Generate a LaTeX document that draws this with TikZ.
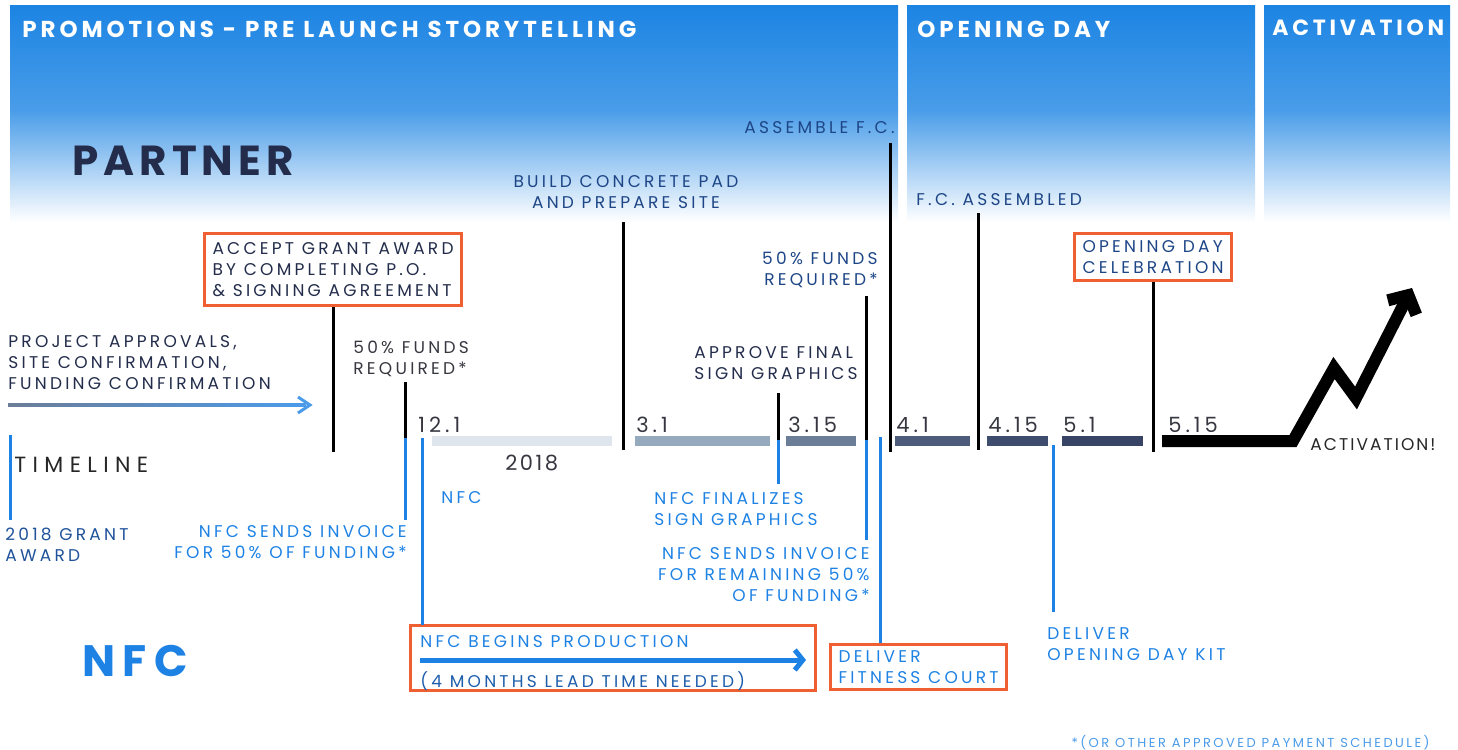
\documentclass[tikz,border=0pt]{standalone}
\usepackage{fontspec}
\setmainfont{Poppins}[LetterSpace=19]
\newfontfamily\titlefam{Poppins}[LetterSpace=17]
\newfontfamily\widefam{Poppins}[LetterSpace=29]
\newfontfamily\tightfam{Poppins}[LetterSpace=12]
\usetikzlibrary{arrows.meta, positioning}

\definecolor{skyblue}{RGB}{28,132,227}
\definecolor{navy}{RGB}{35,45,75}
\definecolor{deepblue}{RGB}{30,70,135}
\definecolor{nfcblue}{RGB}{30,130,228}
\definecolor{boxorange}{RGB}{240,95,50}
\definecolor{inkgray}{RGB}{55,55,65}
\definecolor{segA}{RGB}{222,229,236}
\definecolor{segB}{RGB}{150,170,190}
\definecolor{segC}{RGB}{108,125,152}
\definecolor{segD}{RGB}{78,92,124}
\definecolor{segE}{RGB}{62,76,110}
\definecolor{segF}{RGB}{55,68,102}

\begin{document}
\begin{tikzpicture}[
    x=0.5pt, y=-0.5pt,
    lbl/.style={inner sep=0pt, align=left, text=navy,
        font=\fontsize{8.5}{10.5}\selectfont},
    nfclbl/.style={lbl, text=nfcblue},
    datelbl/.style={inner sep=0pt, text=inkgray,
        font=\fontsize{10.5}{12}\selectfont},
    title/.style={inner sep=0pt, text=white,
        font=\titlefam\fontsize{11.5}{13}\selectfont\bfseries},
    heading/.style={inner sep=0pt, text=navy,
        font=\tightfam\fontsize{21}{23}\selectfont\bfseries},
    orangebox/.style={draw=boxorange, line width=1.5pt, inner xsep=4pt, inner ysep=3.5pt},
    tickline/.style={black, line width=1.5pt},
    nfcline/.style={nfcblue, line width=1.5pt},
    skyfade/.style={top color=skyblue!80!white, bottom color=white},
    skytop/.style={top color=skyblue, bottom color=skyblue!80!white},
]

    % sky panels
    \shade[skytop]  (10,5)    rectangle (898,110);
    \shade[skyfade] (10,110)  rectangle (898,222);
    \shade[skytop]  (907,5)   rectangle (1255,110);
    \shade[skyfade] (907,110) rectangle (1255,222);
    \shade[skytop]  (1264,5)  rectangle (1450,110);
    \shade[skyfade] (1264,110) rectangle (1450,222);

    \node[title, anchor=north west] (promo)   at (22,21)   {PROMOTIONS - PRE LAUNCH STORYTELLING};
    \node[title, anchor=north west] (openday) at (917,21)  {OPENING DAY};
    \node[title, anchor=north west, font=\titlefam\fontsize{11}{13}\selectfont\bfseries]
                                    (activ)   at (1272,19) {ACTIVATION};

    \node[heading, anchor=north west] (partner) at (72,146) {PARTNER};
    \node[heading, text=nfcblue, anchor=north west, font=\titlefam\fontsize{22}{24}\selectfont\bfseries]
                                      (nfcbig)  at (82,645) {NFC};

    % timeline bar
    \fill[segA] (432,436) rectangle (612,446);
    \fill[segB] (635,436) rectangle (770,446);
    \fill[segC] (786,436) rectangle (856,446);
    \fill[segD] (895,436) rectangle (970,446);
    \fill[segE] (987,436) rectangle (1048,446);
    \fill[segF] (1062,436) rectangle (1143,446);

    \coordinate (z0) at (1162,441);
    \coordinate (z1) at (1293,441);
    \coordinate (z2) at (1334,368);
    \coordinate (z3) at (1356,398);
    \coordinate (z4) at (1412,288);
    \draw[black, line width=6pt, miter limit=4,
        -{Straight Barb[length=7pt, width=16pt]}] (z0) -- (z1) -- (z2) -- (z3) -- (z4);

    % dates
    \node[datelbl, anchor=north west] (d121)  at (418,417) {12.1};
    \node[datelbl, anchor=north west] (d31)   at (636,417) {3.1};
    \node[datelbl, anchor=north west] (d315)  at (788,417) {3.15};
    \node[datelbl, anchor=north west] (d41)   at (896,417) {4.1};
    \node[datelbl, anchor=north west] (d415)  at (988,417) {4.15};
    \node[datelbl, anchor=north west] (d51)   at (1063,417) {5.1};
    \node[datelbl, anchor=north west] (d515)  at (1168,417) {5.15};
    \node[datelbl, anchor=north west, font=\tightfam\fontsize{10.5}{12}\selectfont]
                                      (d2018) at (505,455) {2018};
    \node[datelbl, anchor=north west, font=\widefam\fontsize{11}{12}\selectfont, text=black!85]
                                      (timeline) at (14,457) {TIMELINE};
    \node[lbl, anchor=north west, text=black!85, font=\tightfam\fontsize{8.5}{10}\selectfont]
                                      (activated) at (1310,438) {ACTIVATION!};

    % partner side
    \node[lbl, anchor=north, align=center, text=deepblue] (build) at (626,175)
        {BUILD CONCRETE PAD\\AND PREPARE SITE};
    \node[lbl, anchor=north east, text=deepblue] (assemble) at (895,121) {ASSEMBLE F.C.};
    \node[lbl, anchor=north west, text=deepblue] (fcdone)   at (916,193) {F.C. ASSEMBLED};
    \node[lbl, anchor=north east, align=right, text=deepblue] (funds2) at (878,252)
        {50\% FUNDS\\REQUIRED*};
    \node[lbl, orangebox, inner ysep=4.5pt, anchor=north west] (accept) at (203,232)
        {ACCEPT GRANT AWARD\\BY COMPLETING P.O.\\\& SIGNING AGREEMENT};
    \node[lbl, orangebox, anchor=north west, text=deepblue] (celebrate) at (1073,232)
        {OPENING DAY\\CELEBRATION};
    \node[lbl, anchor=north west] (approvals) at (8,335)
        {PROJECT APPROVALS,\\SITE CONFIRMATION,\\FUNDING CONFIRMATION};
    \node[lbl, anchor=north west, text=inkgray] (funds1) at (353,341)
        {50\% FUNDS\\REQUIRED*};
    \node[lbl, anchor=north west] (approve) at (694,346)
        {APPROVE FINAL\\SIGN GRAPHICS};

    % nfc side
    \node[lbl, anchor=north west, text=deepblue!80!nfcblue] (grant) at (5,528)
        {2018 GRANT\\AWARD};
    \node[nfclbl, anchor=north east, align=right] (invoice1) at (407,525)
        {NFC SENDS INVOICE\\FOR 50\% OF FUNDING*};
    \node[nfclbl, anchor=north west] (nfcsmall) at (441,491) {NFC};
    \node[nfclbl, anchor=north west] (finalize) at (654,492)
        {NFC FINALIZES\\SIGN GRAPHICS};
    \node[nfclbl, anchor=north east, align=right] (invoice2) at (870,547)
        {NFC SENDS INVOICE\\FOR REMAINING 50\%\\OF FUNDING*};
    \node[nfclbl, anchor=north west] (kit) at (1047,627)
        {DELIVER\\OPENING DAY KIT};
    \node[nfclbl, orangebox, inner ysep=3pt, anchor=north west] (deliver) at (829,643)
        {DELIVER\\FITNESS COURT};
    \draw[boxorange, line width=1.5pt] (410,625) rectangle (815,690);
    \node[nfclbl, anchor=north west] (production) at (420,635) {NFC BEGINS PRODUCTION};
    \node[nfclbl, anchor=north west, text=deepblue!60!nfcblue] (leadtime) at (420,671)
        {(4 MONTHS LEAD TIME NEEDED)};
    \coordinate (prodstart) at (420,660);
    \coordinate (prodend)   at (806,660);
    \draw[nfcblue, line width=2.5pt, -{Straight Barb[length=4pt, width=10pt]}]
        (prodstart) -- (prodend);

    \node[nfclbl, anchor=north east, font=\fontsize{6.5}{8}\selectfont, text=nfcblue!80]
        (footnote) at (1430,735) {*(OR OTHER APPROVED PAYMENT SCHEDULE)};

    % approvals arrow
    \coordinate (apstart) at (8,405);
    \coordinate (apend)   at (306,405);
    \shade[left color=segC, right color=nfcblue!80] (8,403.5) rectangle (306,406.5);
    \draw[nfcblue!80, line width=1.5pt] (298,397) -- (310,405) -- (298,413);

    % ticks
    \coordinate (tlbot) at (0,452);
    \coordinate (tlmid) at (0,439);
    \draw[tickline] (accept.south) -- (accept.south |- tlbot);
    \draw[tickline] (623,222) -- (623,450);
    \draw[tickline] (890,143) -- (890,452);
    \draw[tickline] (978,213) -- (978,450);
    \draw[tickline] (celebrate.south) -- (celebrate.south |- tlbot);

    \coordinate (k405) at (405,438);
    \draw[tickline] (405,382) -- (k405);
    \draw[nfcline]  (k405) -- (405,520);
    \coordinate (k778) at (778,440);
    \draw[tickline] (778,393) -- (k778);
    \draw[nfcline]  (k778) -- (778,484);
    \coordinate (k866) at (866,440);
    \draw[tickline] (866,296) -- (k866);
    \draw[nfcline]  (k866) -- (866,540);

    \draw[nfcline] (422,438) -- (422,625);
    \draw[nfcline] (880,437) -- (deliver.north -| 880,0);
    \draw[nfcline] (1053,445) -- (1053,612);
    \draw[nfcline] (10,435) -- (10,520);

    \useasboundingbox (0,0) rectangle (1458,749);
\end{tikzpicture}
\end{document}
